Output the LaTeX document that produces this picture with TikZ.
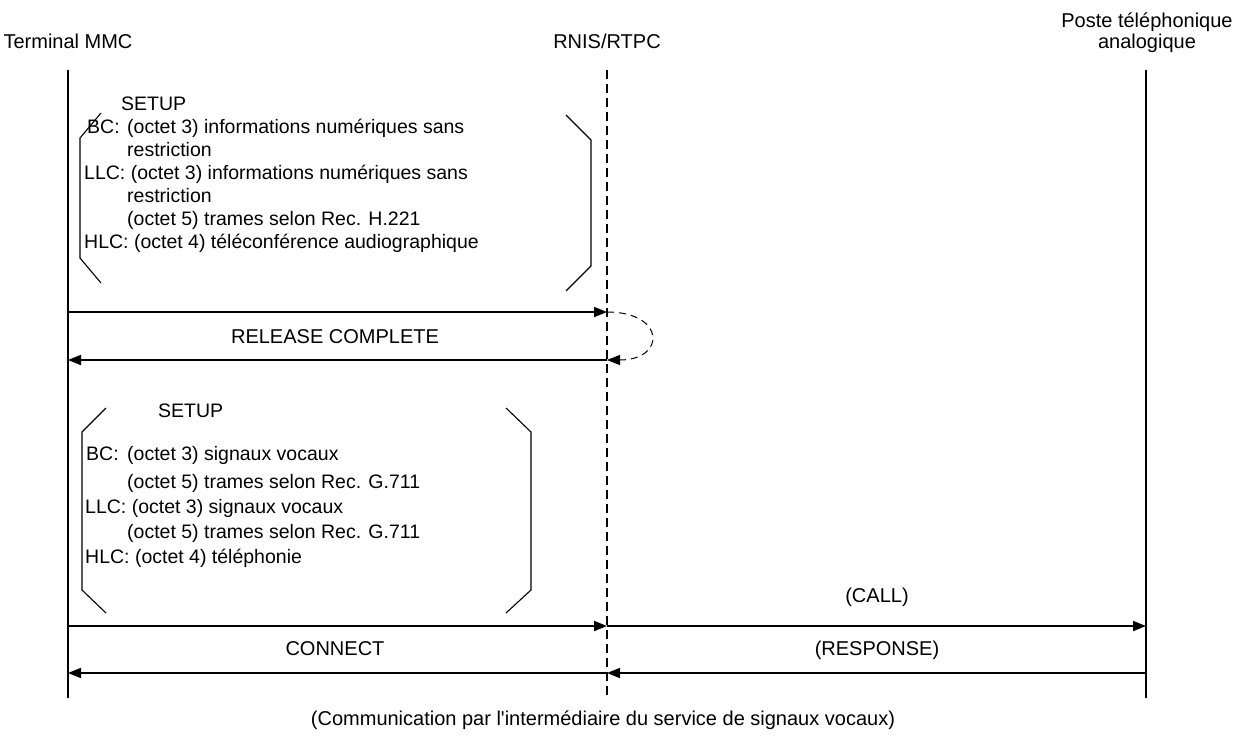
\documentclass[tikz,border=0pt]{standalone}
\usepackage{fontspec}
\setmainfont{Liberation Sans}[Ligatures=TeXOff]
\usetikzlibrary{arrows.meta}
\begin{document}
\begin{tikzpicture}[x=1pt,y=-1pt,
  txt/.style={inner sep=0pt,font=\fontsize{20}{24}\selectfont},
  lbl/.style={inner sep=0pt,anchor=base west,font=\fontsize{19.5}{24}\selectfont},
  ctr/.style={txt,anchor=base},
  life/.style={line width=1.6pt},
  midlife/.style={line width=1.4pt,dash pattern=on 9pt off 5pt},
  msg/.style={line width=1.8pt,-{Triangle[length=13pt,width=10pt]}},
  loopmsg/.style={line width=1pt,dash pattern=on 7pt off 5pt,-{Triangle[length=13pt,width=10pt]}},
  brk/.style={line width=1.1pt}]
\useasboundingbox (0,0) rectangle (1245,745);

% headers
\node[ctr] (hA) at (68,48) {Terminal MMC};
\node[ctr] (hB) at (607,48) {RNIS/RTPC};
\node[ctr] (hC1) at (1147,27) {Poste téléphonique};
\node[ctr] (hC2) at (1147,48) {analogique};

% lifelines
\coordinate (At) at (68,70);    \coordinate (Ab) at (68,698);
\coordinate (Bt) at (607,70);   \coordinate (Bb) at (607,698);
\coordinate (Ct) at (1146,70);  \coordinate (Cb) at (1146,698);
\draw[life] (At) -- (Ab);
\draw[midlife] (Bt) -- (Bb);
\draw[life] (Ct) -- (Cb);

% first SETUP parameters
\node[lbl] (s1) at (121,110) {SETUP};
\node[lbl] (s1bc) at (87,133) {BC:};
\node[lbl] (s1a) at (127,133) {(octet 3) informations numériques sans};
\node[lbl] (s1b) at (127,156) {restriction};
\node[lbl] (s1c) at (84,179) {LLC: (octet 3) informations numériques sans};
\node[lbl] (s1d) at (127,202) {restriction};
\node[lbl] (s1e) at (127,225) {(octet 5) trames selon Rec. H.221};
\node[lbl] (s1f) at (84,248) {HLC: (octet 4) téléconférence audiographique};
\draw[brk] (101,113) -- (80,138) -- (80,258) -- (101,283);
\draw[brk] (566,115) -- (591,140) -- (591,266) -- (566,291);

% SETUP rejected by the network
\coordinate (A1) at (68,312);  \coordinate (B1) at (607,312);
\coordinate (A2) at (68,360);  \coordinate (B2) at (607,360);
\draw[msg] (A1) -- (B1);
\draw[loopmsg] (B1) .. controls (666,312) and (666,360) .. (B2);
\node[ctr] (rel) at (335,343) {RELEASE COMPLETE};
\draw[msg] (B2) -- (A2);

% second SETUP parameters
\node[lbl] (s2) at (158,417) {SETUP};
\node[lbl] (s2bc) at (86,460) {BC:};
\node[lbl] (s2a) at (127,460) {(octet 3) signaux vocaux};
\node[lbl] (s2b) at (127,488) {(octet 5) trames selon Rec. G.711};
\node[lbl] (s2c) at (85,513) {LLC: (octet 3) signaux vocaux};
\node[lbl] (s2d) at (127,538) {(octet 5) trames selon Rec. G.711};
\node[lbl] (s2e) at (85,563) {HLC: (octet 4) téléphonie};
\draw[brk] (106,408) -- (82,432) -- (82,590) -- (106,613);
\draw[brk] (506,408) -- (531,432) -- (531,590) -- (506,613);

% call set-up through the speech service
\coordinate (A3) at (68,626);  \coordinate (B3) at (607,626);  \coordinate (C3) at (1146,626);
\coordinate (A4) at (68,673);  \coordinate (B4) at (607,673);  \coordinate (C4) at (1146,673);
\node[ctr] (call) at (877,602) {(CALL)};
\draw[msg] (A3) -- (B3);
\draw[msg] (B3) -- (C3);
\node[ctr] (con) at (335,655) {CONNECT};
\node[ctr] (resp) at (877,655) {(RESPONSE)};
\draw[msg] (C4) -- (B4);
\draw[msg] (B4) -- (A4);

\node[ctr] (foot) at (603,725) {(Communication par l'intermédiaire du service de signaux vocaux)};
\end{tikzpicture}
\end{document}
